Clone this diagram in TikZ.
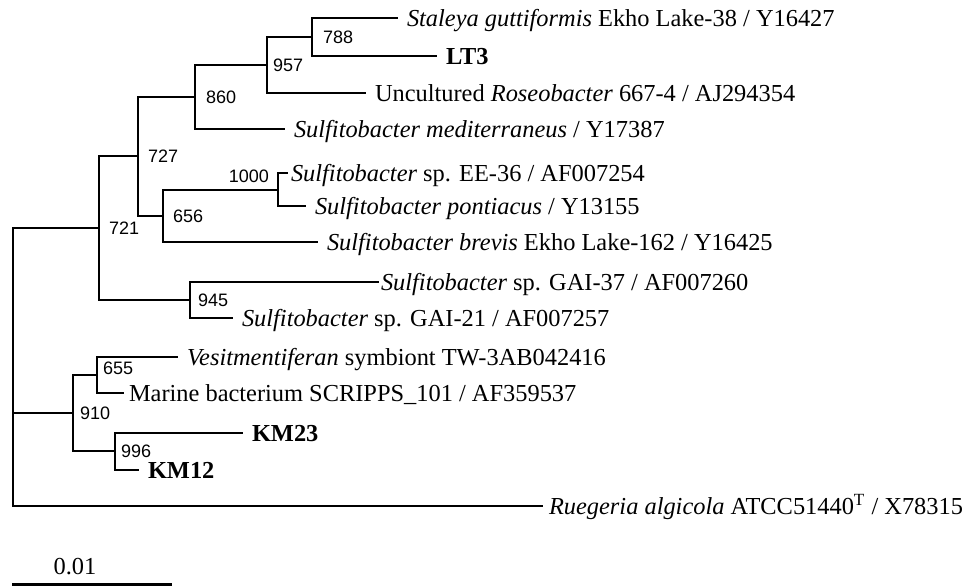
\documentclass[tikz,border=0pt]{standalone}
\usepackage{fontspec}
\setmainfont{Liberation Serif}
\newfontfamily\bootfont{Liberation Sans}
\usepackage{tikz}
\usetikzlibrary{positioning}

\begin{document}
\begin{tikzpicture}[x=0.5pt, y=-0.5pt, line width=1pt, line cap=rect,
  leaf/.style={anchor=west, inner xsep=4.5pt, inner ysep=0pt, text height=8pt, text depth=0pt, font=\fontsize{12.2}{14}\selectfont},
  boot/.style={inner sep=0pt, font=\bootfont\fontsize{9}{10}\selectfont},
  scalelbl/.style={inner sep=0pt, font=\fontsize{12.2}{14}\selectfont}]
\useasboundingbox (0,0) rectangle (968,586);
\coordinate (root) at (13,228);
\coordinate (n721) at (99,228);
\coordinate (n727) at (138,156);
\coordinate (n860) at (195,97);
\coordinate (n957) at (267,65);
\coordinate (n788) at (312,37);
\coordinate (n656) at (163,216);
\coordinate (n1000) at (278,190);
\coordinate (n945) at (190,300);
\coordinate (n910) at (73,413);
\coordinate (n655) at (97,375);
\coordinate (n996) at (115,451);
\node[leaf] (staleya) at (397,18) {\textit{Staleya guttiformis} Ekho Lake-38 / Y16427};
\node[leaf] (lt3) at (436,56) {\textbf{LT3}};
\node[leaf] (uncult) at (365,93) {Uncultured \textit{Roseobacter} 667-4 / AJ294354};
\node[leaf] (medit) at (284,129) {\textit{Sulfitobacter mediterraneus} / Y17387};
\node[leaf, inner xsep=1.5pt] (ee36) at (287,173) {\textit{Sulfitobacter} sp. EE-36 / AF007254};
\node[leaf] (pont) at (305,206) {\textit{Sulfitobacter pontiacus} / Y13155};
\node[leaf] (brevis) at (317,242) {\textit{Sulfitobacter brevis} Ekho Lake-162 / Y16425};
\node[leaf, inner xsep=1pt] (gai37) at (378,282) {\textit{Sulfitobacter} sp. GAI-37 / AF007260};
\node[leaf] (gai21) at (232,318) {\textit{Sulfitobacter} sp. GAI-21 / AF007257};
\node[leaf] (vesit) at (177,357) {\textit{Vesitmentiferan} symbiont TW-3AB042416};
\node[leaf, inner xsep=2.5pt] (marine) at (123,393) {Marine bacterium SCRIPPS\_101 / AF359537};
\node[leaf] (km23) at (242,433) {\textbf{KM23}};
\node[leaf] (km12) at (138,470) {\textbf{KM12}};
\node[leaf, inner xsep=3pt] (rueg) at (542,506) {\textit{Ruegeria algicola} ATCC51440\textsuperscript{T} / X78315};
\draw (n788) |- (staleya.west);
\draw (n788) |- (lt3.west);
\draw (n957) |- (n788);
\draw (n957) |- (uncult.west);
\draw (n860) |- (n957);
\draw (n860) |- (medit.west);
\draw (n1000) |- (ee36.west);
\draw (n1000) |- (pont.west);
\draw (n656) |- (n1000);
\draw (n656) |- (brevis.west);
\draw (n727) |- (n860);
\draw (n727) |- (n656);
\draw (n945) |- (gai37.west);
\draw (n945) |- (gai21.west);
\draw (n721) |- (n727);
\draw (n721) |- (n945);
\draw (n655) |- (vesit.west);
\draw (n655) |- (marine.west);
\draw (n996) |- (km23.west);
\draw (n996) |- (km12.west);
\draw (n910) |- (n655);
\draw (n910) |- (n996);
\draw (root) |- (n721);
\draw (root) |- (n910);
\draw (root) |- (rueg.west);
\node[boot, right=5pt of n788] (b788) {788};
\node[boot, right=2.5pt of n957] (b957) {957};
\node[boot, right=5pt of n860] (b860) {860};
\node[boot, right=4.5pt of n727] (b727) {727};
\node[boot, right=4.5pt of n721] (b721) {721};
\node[boot, above left=3pt and 4pt of n1000] (b1000) {1000};
\node[boot, right=4.5pt of n656] (b656) {656};
\node[boot, right=3.5pt of n945] (b945) {945};
\node[boot, right=2.5pt of n655, yshift=3.5pt] (b655) {655};
\node[boot, right=3pt of n910] (b910) {910};
\node[boot, right=2.5pt of n996] (b996) {996};
\coordinate (sb0) at (12,584);
\coordinate (sb1) at (172,584);
\draw[line width=1.5pt, line cap=butt] (sb0) -- (sb1);
\node[scalelbl] (sbl) at (75,567) {0.01};
\end{tikzpicture}
\end{document}
